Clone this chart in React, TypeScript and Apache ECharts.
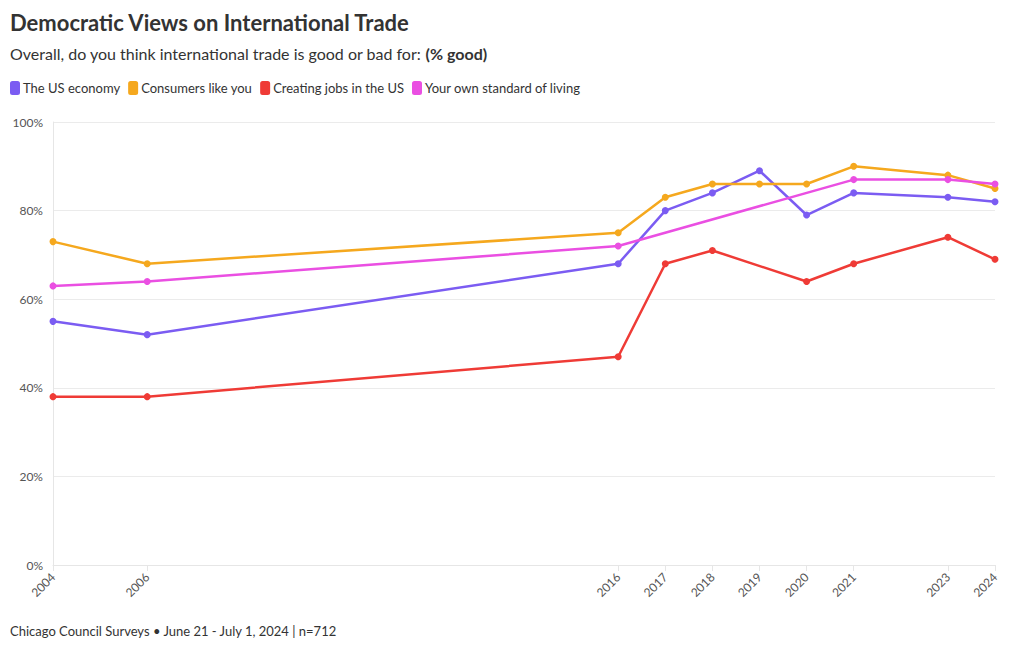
import React, { useEffect, useRef } from "react";
import * as echarts from "echarts";

const years = [2004, 2006, 2016, 2017, 2018, 2019, 2020, 2021, 2023, 2024];
const usEconomy = [55, 52, 68, 80, 84, 89, 79, 84, 83, 82];
const consumers = [73, 68, 75, 83, 86, 86, 86, 90, 88, 85];
const jobs = [38, 38, 47, 68, 71, null, 64, 68, 74, 69];
const standard = [63, 64, 72, null, null, null, null, 87, 87, 86];
const seriesNames = ["The US economy", "Consumers like you", "Creating jobs in the US", "Your own standard of living"];
const colors = ["#7b5cf2", "#f5a81e", "#ef3b36", "#ea4fe2"];
const yTicks = [0, 20, 40, 60, 80, 100];

const FONT = "Lato, 'Noto Sans', sans-serif";

function pairs(vals: (number | null)[]) {
  const out: [number, number][] = [];
  years.forEach((y, i) => {
    const v = vals[i];
    if (v !== null && v !== undefined) out.push([y, v]);
  });
  return out;
}

export default function App() {
  const ref = useRef<HTMLDivElement>(null);
  useEffect(() => {
    if (!ref.current) return;
    const chart = echarts.init(ref.current, undefined, { renderer: "svg" });
    const all = [usEconomy, consumers, jobs, standard];
    chart.setOption({
      animation: false,
      textStyle: { fontFamily: FONT },
      title: [
        {
          text: "Democratic Views on International Trade",
          left: 5,
          top: 6,
          textStyle: { fontSize: 22, fontWeight: "bold", color: "#333", fontFamily: FONT },
        },
        {
          text: "{n|Overall, do you think international trade is good or bad for: }{b|(% good)}",
          left: 5,
          top: 40,
          textStyle: {
            fontFamily: FONT,
            fontWeight: "normal",
            rich: {
              n: { fontSize: 16, color: "#333", fontWeight: "normal", fontFamily: FONT },
              b: { fontSize: 16, color: "#333", fontWeight: "bold", fontFamily: FONT },
            },
          },
        },
        {
          text: "Chicago Council Surveys • June 21 - July 1, 2024 | n=712",
          left: 5,
          top: 619,
          textStyle: { fontSize: 13, fontWeight: "normal", color: "#333", fontFamily: FONT },
        },
      ],
      legend: {
        left: 5,
        top: 76,
        icon: "roundRect",
        itemWidth: 10,
        itemHeight: 14,
        itemGap: 8,
        textStyle: { fontSize: 13, color: "#333", padding: [0, 0, 0, -2], fontFamily: FONT },
        data: seriesNames,
      },
      grid: { left: 53, right: 25, top: 122, bottom: 85 },
      xAxis: {
        type: "value",
        min: 2004,
        max: 2024,
        axisLine: { show: true, lineStyle: { color: "#e6e6e6" } },
        axisTick: {
          show: true,
          customValues: years,
          length: 6,
          lineStyle: { color: "#e6e6e6" },
        },
        axisLabel: {
          customValues: years,
          rotate: 45,
          fontSize: 12,
          color: "#555",
          margin: 10,
          formatter: (v: number) => String(v),
        },
        splitLine: { show: false },
      },
      yAxis: {
        type: "value",
        min: 0,
        max: 100,
        interval: 20,
        axisLine: { show: true, lineStyle: { color: "#e6e6e6" } },
        axisTick: { show: false },
        axisLabel: {
          fontSize: 12,
          color: "#555",
          margin: 10,
          formatter: (v: number) => (yTicks.includes(v) ? v + "%" : ""),
        },
        splitLine: { show: true, lineStyle: { color: "#ebebeb" } },
      },
      series: all.map((vals, i) => ({
        name: seriesNames[i],
        type: "line",
        data: pairs(vals),
        color: colors[i],
        symbol: "circle",
        symbolSize: 7,
        lineStyle: { width: 2.5, color: colors[i] },
        itemStyle: { color: colors[i] },
      })),
    });
    return () => chart.dispose();
  }, []);
  return <div ref={ref} style={{ width: 1020, height: 650, margin: -8 }} />;
}
